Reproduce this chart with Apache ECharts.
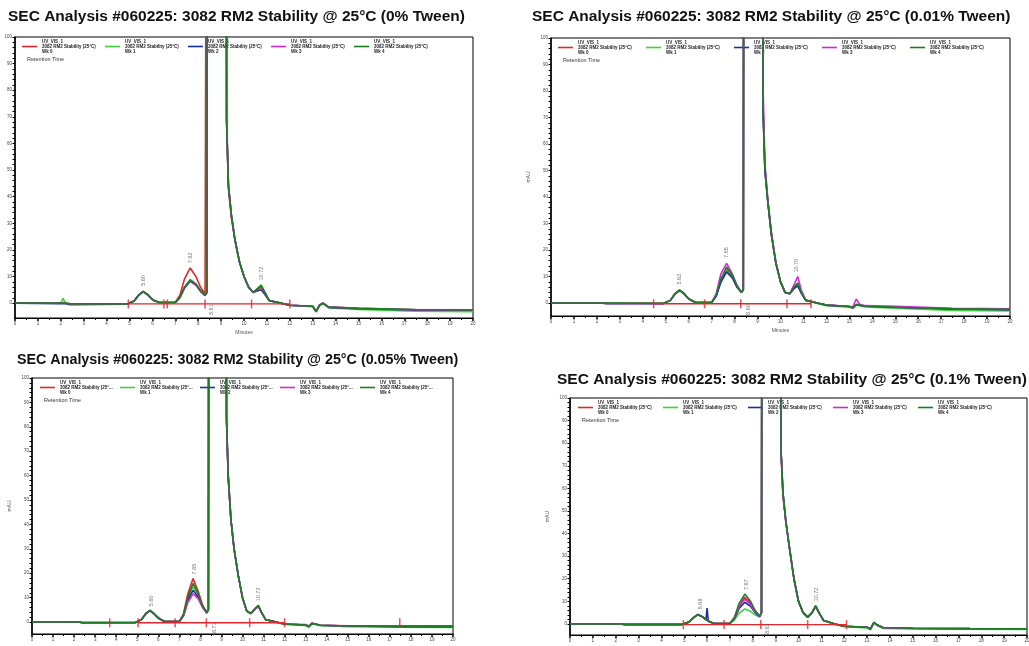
<!DOCTYPE html>
<html>
<head>
<meta charset="utf-8">
<title>SEC Analysis #060225</title>
<script src="https://cdn.jsdelivr.net/npm/echarts@6/dist/echarts.min.js"></script>
<style>
  html, body { margin: 0; padding: 0; background: #fff; }
  #chart { width: 1029px; height: 646px; }
</style>
</head>
<body>
<div id="chart"></div>
<script>
// retention times (min), shared by every trace
const times = [0, 2.0, 2.1, 2.2, 2.4, 4.9, 5.2, 5.4, 5.6, 5.8, 5.95, 6.0, 6.05, 6.3, 7.0,
  7.2, 7.4, 7.65, 7.9, 8.1, 8.3, 8.38, 8.42, 9.2, 9.24, 9.32, 9.45, 9.6, 9.8, 10.0,
  10.2, 10.4, 10.6, 10.75, 10.9, 11.1, 11.6, 12.0, 13.0, 13.15, 13.3, 13.45, 13.7, 15.0, 17.5, 20.0]

const seriesNames = [
  'UV_VIS_1\n3082 RM2 Stability (25°C)\nWk 0',
  'UV_VIS_1\n3082 RM2 Stability (25°C)\nWk 1',
  'UV_VIS_1\n3082 RM2 Stability (25°C)\nWk 2',
  'UV_VIS_1\n3082 RM2 Stability (25°C)\nWk 3',
  'UV_VIS_1\n3082 RM2 Stability (25°C)\nWk 4'
]
const seriesColors = ['#e3262b', '#3fd13f', '#1b2f9e', '#d12bd1', '#1d7d24']

const titles = [
  'SEC Analysis #060225: 3082 RM2 Stability @ 25°C (0% Tween)',
  'SEC Analysis #060225: 3082 RM2 Stability @ 25°C (0.01% Tween)',
  'SEC Analysis #060225: 3082 RM2 Stability @ 25°C (0.05% Tween)',
  'SEC Analysis #060225: 3082 RM2 Stability @ 25°C (0.1% Tween)'
]

// ---- panel 1 : 0% Tween ----
const p1Red = [0, 0, 0, 0, -0.3, -0.3, 0.8, 3, 4.3, 3.1, 1.7, 1.4, 1.1, 0.2, 0.3,
  3, 9, 13.2, 10, 6, 3.5, 4.2, 400, 400, 68, 43, 32, 24, 15.5, 10,
  6, 4, 5, 6, 4, 1, 0, -0.8, -1.2, -3.1, -0.8, 0, -1.5, -2, -2.5, -2.6]
const p1LtGreen = [0, 0, 1.8, 0, -0.3, -0.3, 0.7, 2.8, 4.2, 3, 1.7, 1.3, 1, 0.2, 0.2,
  2, 5.8, 8.6, 7, 4.6, 2.9, 4, 400, 400, 69, 44, 33, 24, 15.5, 10,
  6, 4, 5.6, 6.9, 4.3, 1, 0, -0.9, -1.4, -3.4, -1, -0.2, -1.8, -2.4, -3, -3.2]
const p1Blue = [0, -0.2, -0.2, -0.2, -0.6, -0.4, 0.8, 3, 4.4, 3.1, 1.7, 1.4, 1.1, 0.2, 0.2,
  2, 5.6, 8.2, 6.8, 4.4, 2.8, 4, 400, 400, 68, 44, 33, 24, 15.5, 10,
  6, 4, 4.6, 5, 3.4, 0.9, 0, -0.8, -1.2, -3.2, -0.8, 0, -1.6, -2.1, -2.6, -2.7]
const p1Magenta = [0, 0, 0, 0, -0.4, -0.3, 0.8, 3, 4.3, 3.1, 1.7, 1.4, 1.1, 0.2, 0.2,
  2, 5.8, 8.5, 7, 4.6, 2.9, 4, 400, 400, 70, 45, 33, 24, 15.5, 10,
  6, 4, 5.2, 6.2, 4, 1, 0, -0.8, -1.2, -3, -0.6, 0, -1.5, -2, -2.5, -2.6]
const p1DkGreen = [0, 0, 0, 0, -0.3, -0.3, 0.8, 3, 4.4, 3.2, 1.8, 1.4, 1.1, 0.2, 0.2,
  2.2, 6, 8.8, 7.2, 4.8, 3, 4, 400, 400, 69, 44, 33, 24, 15.5, 10,
  6, 4, 5.5, 6.6, 4.2, 1, 0, -0.8, -1.2, -3.2, -0.8, 0, -1.5, -2, -2.4, -2.6]
const p1Marks = [4.95, 6.5, 6.65, 8.3, 10.33, 12.0]
const p1BaseSpan = [4.95, 12.0]
const p1PeakTimes = [5.6, 7.65, 8.6, 10.75]
const p1PeakY = [6.5, 15, -4.5, 8.5]
const p1PeakText = ['5.60', '7.62', '8.61', '10.72']

// ---- panel 2 : 0.01% Tween ----
const p2Red = [0, 0, 0, 0, 0, -0.1, 1, 3.4, 4.8, 3.5, 2, 1.6, 1.3, 0.2, 0.2,
  3, 8.5, 12.5, 10, 6.2, 4, 5, 400, 400, 73, 50, 38, 26, 15, 8,
  4, 3.5, 5.8, 7, 4, 1, 0, -0.8, -1.3, -1.8, -0.6, -0.8, -1.2, -1.6, -2.3, -2.5]
const p2LtGreen = [0, 0, 0, 0, 0, -0.2, 1, 3.4, 4.8, 3.5, 2, 1.6, 1.3, 0.2, 0.2,
  3, 9, 13, 10.2, 6.4, 4, 5, 400, 400, 74, 51, 38, 26, 15, 8,
  4, 3.5, 6, 7.2, 4, 1, -0.2, -1, -1.6, -2, -0.8, -1, -1.5, -2, -2.8, -3]
const p2Blue = [0, 0, 0, 0, -0.3, -0.3, 1, 3.4, 4.8, 3.5, 2, 1.6, 1.3, 0.2, 0.2,
  2.5, 7.8, 11.7, 9.5, 6, 4, 5, 400, 400, 72, 50, 38, 26, 15, 8,
  4, 3.5, 5.5, 6.5, 3.8, 1, 0, -0.8, -1.3, -1.8, -0.6, -0.8, -1.2, -1.6, -2.2, -2.5]
const p2Magenta = [0, 0, 0, 0, -0.2, -0.2, 1, 3.5, 4.9, 3.6, 2, 1.6, 1.3, 0.2, 0.2,
  3.5, 11, 15, 11, 6.8, 4, 5, 400, 400, 82, 53, 39, 27, 15.5, 8,
  4, 3.5, 7, 10, 5, 1.2, 0, -0.8, -1.2, -1.5, 1.5, -0.5, -1, -1.2, -2, -2.2]
const p2DkGreen = [0, 0, 0, 0, 0, -0.1, 1, 3.5, 4.9, 3.6, 2, 1.6, 1.3, 0.2, 0.2,
  3, 9, 13.6, 10.5, 6.5, 4, 5, 400, 400, 74, 51, 38, 26, 15, 8,
  4, 3.5, 6, 7.5, 4, 1, 0, -0.8, -1.3, -1.8, -0.6, -0.8, -1.2, -1.6, -2.2, -2.4]
const p2Marks = [4.47, 6.69, 8.27, 10.28, 11.33]
const p2BaseSpan = [4.47, 11.33]
const p2PeakTimes = [5.6, 7.65, 8.6, 10.68]
const p2PeakY = [7, 17, -4.5, 11.5]
const p2PeakText = ['5.62', '7.65', '8.60', '10.70']

// ---- panel 3 : 0.05% Tween ----
const p3Red = [0, 0, 0, 0, -0.2, -0.2, 1, 3.3, 4.7, 3.3, 2, 1.6, 1.3, 0.2, 0.2,
  3.5, 11.5, 17.8, 12.5, 7, 4, 5, 400, 400, 83, 59, 42, 30, 19, 10,
  4.5, 3.5, 5.3, 6.5, 4, 1, 0, -0.8, -1.2, -1.8, -0.6, -0.8, -1.3, -1.5, -1.5, -1.5]
const p3LtGreen = [0, 0, 0, 0, -0.1, -0.2, 1, 3.3, 4.7, 3.3, 2, 1.6, 1.3, 0.2, 0.2,
  3, 9.5, 14.5, 11, 6.4, 4, 5, 400, 400, 85, 61, 42, 30, 19, 10,
  4.5, 3.5, 5.6, 6.9, 4.2, 1, -0.2, -1, -1.4, -2.2, -0.8, -1, -1.5, -1.9, -2.1, -2.2]
const p3Blue = [0, 0, 0, 0, -0.4, -0.3, 1, 3.4, 4.8, 3.5, 2.2, 2.5, 1.5, 0.2, 0.2,
  2.8, 9, 13, 10.2, 6.2, 4, 5, 400, 400, 83, 60, 42, 30, 19, 10,
  4.5, 3.5, 5.5, 6.6, 4, 1, 0, -0.8, -1.2, -1.8, -0.6, -0.8, -1.3, -1.6, -1.9, -2]
const p3Magenta = [0, 0, 0, 0, -0.4, -0.4, 1, 3.3, 4.6, 3.3, 2, 1.6, 1.3, 0.2, 0.2,
  2.5, 8, 11.6, 9.5, 6, 3.5, 5, 400, 400, 83, 60, 42, 30, 19, 10,
  4.5, 3.5, 5.3, 6.4, 4, 1, 0, -0.8, -1, -1.6, -0.3, -0.8, -1.3, -1.6, -1.8, -1.9]
const p3DkGreen = [0, 0, 0, 0, -0.2, -0.2, 1, 3.4, 4.8, 3.4, 2, 1.6, 1.3, 0.2, 0.2,
  3, 10, 15.8, 11.5, 6.5, 4, 5, 400, 400, 84, 60, 42, 30, 19, 10,
  4.5, 3.5, 5.5, 6.8, 4, 1, 0, -0.8, -1.2, -1.8, -0.6, -0.8, -1.3, -1.6, -1.8, -1.9]
const p3Marks = [3.69, 5.04, 6.8, 8.28, 10.34, 12.0, 17.47]
const p3BaseSpan = [5.04, 12.0]
const p3PeakTimes = [5.67, 7.73, 8.65, 10.78]
const p3PeakY = [6.5, 19.5, -4.5, 8.5]
const p3PeakText = ['5.60', '7.65', '8.71', '10.72']

// ---- panel 4 : 0.1% Tween ----
const p4Red = [0, 0, 0, 0, -0.2, -0.2, 0.8, 2.7, 4.1, 3.1, 2, 1.6, 1.3, 0.2, 0.2,
  2.8, 8, 11.8, 9.2, 5.6, 3.4, 5, 400, 400, 75, 57, 45, 34, 20, 10,
  5, 3, 5, 7.6, 4.8, 1.5, 0, -1, -1.5, -2.2, 0.6, -0.5, -1.6, -1.9, -2.1, -2.2]
const p4LtGreen = [0, 0, 0, 0, -0.1, -0.2, 0.7, 2.6, 4, 3, 1.9, 1.5, 1.2, 0.2, 0.2,
  1.8, 4.8, 6.6, 5.6, 4, 3, 5, 400, 400, 76, 58, 45, 34, 20, 10,
  5, 3, 5, 7.8, 4.8, 1.4, -0.2, -1.2, -1.8, -2.6, 0.4, -0.8, -2, -2.2, -2.3, -2.4]
const p4Blue = [0, 0, 0, 0, -0.3, -0.3, 0.8, 2.8, 4.2, 3.2, 1.8, 7, 1.2, 0.2, 0.2,
  2.4, 6.8, 9.6, 7.8, 5, 3.2, 5, 400, 400, 76, 58, 45, 34, 20, 10,
  5, 3, 5.2, 8, 5, 1.5, 0, -1, -1.5, -2.2, 0.7, -0.5, -1.6, -1.9, -2.1, -2.2]
const p4Magenta = [0, 0, 0, 0, -0.3, -0.3, 0.8, 2.7, 4.1, 3.1, 2, 1.6, 1.3, 0.2, 0.2,
  2.6, 7.6, 11, 8.6, 5.4, 3.3, 5, 400, 400, 75, 57, 45, 34, 20, 10,
  5, 3, 5, 7.8, 4.8, 1.5, 0, -1, -1.5, -2.1, 0.6, -0.5, -1.7, -2, -2.2, -2.3]
const p4DkGreen = [0, 0, 0, 0, -0.2, -0.2, 0.8, 2.8, 4.2, 3.2, 2, 1.6, 1.3, 0.2, 0.2,
  3, 9, 13.2, 10, 6, 3.5, 5, 400, 400, 76, 58, 45, 34, 20, 10,
  5, 3, 5.2, 8.1, 5, 1.5, 0, -1, -1.5, -2.2, 0.7, -0.5, -1.6, -1.9, -2.1, -2.2]
const p4Marks = [4.96, 6.74, 8.35, 10.4, 12.1]
const p4BaseSpan = [4.96, 12.1]
const p4PeakTimes = [5.69, 7.74, 8.66, 10.8]
const p4PeakY = [6.5, 15, -4.5, 10]
const p4PeakText = ['5.68', '7.67', '8.62', '10.72']

const yLabelValues = [0, 10, 20, 30, 40, 50, 60, 70, 80, 90, 100]
const baseLevel = -0.3

const panelTraces = [
  [p1Red, p1LtGreen, p1Blue, p1Magenta, p1DkGreen],
  [p2Red, p2LtGreen, p2Blue, p2Magenta, p2DkGreen],
  [p3Red, p3LtGreen, p3Blue, p3Magenta, p3DkGreen],
  [p4Red, p4LtGreen, p4Blue, p4Magenta, p4DkGreen]
]
const panelMarks = [p1Marks, p2Marks, p3Marks, p4Marks]
const panelSpans = [p1BaseSpan, p2BaseSpan, p3BaseSpan, p4BaseSpan]
const panelPeaks = [
  [p1PeakTimes, p1PeakY, p1PeakText],
  [p2PeakTimes, p2PeakY, p2PeakText],
  [p3PeakTimes, p3PeakY, p3PeakText],
  [p4PeakTimes, p4PeakY, p4PeakText]
]

// pixel layout of the four panels
const layout = [
  { left: 15, top: 37, width: 458, height: 281, yMin: -5.6, titleLeft: 8, titleTop: 9, titleSize: 15.5, legendLeft: 22, step: 83 },
  { left: 551, top: 38, width: 459, height: 278, yMin: -4.9, titleLeft: 532, titleTop: 9, titleSize: 15.5, legendLeft: 558, step: 88 },
  { left: 32, top: 378, width: 421, height: 256, yMin: -4.9, titleLeft: 17, titleTop: 353, titleSize: 14.3, legendLeft: 40, step: 80 },
  { left: 570, top: 398, width: 457, height: 237, yMin: -4.9, titleLeft: 557, titleTop: 372, titleSize: 15.5, legendLeft: 578, step: 85 }
]

let yTickValues = []
yLabelValues.forEach(v => { yTickValues.push(v, v + 2, v + 4, v + 6, v + 8) })
yTickValues = yTickValues.filter(v => v <= 100)

let grids = [], xAxes = [], yAxes = [], series = [], legends = [], titleList = [], graphics = []

layout.forEach((L, p) => {
  grids.push({
    left: L.left, top: L.top, width: L.width, height: L.height,
    outerBoundsMode: 'none', containLabel: false,
    show: true, borderColor: '#000', borderWidth: 1, backgroundColor: 'transparent'
  })
  xAxes.push({
    type: 'value', gridIndex: p, min: 0, max: 20, interval: 1,
    name: 'Minutes', nameLocation: 'middle', nameGap: 12,
    nameTextStyle: { fontSize: 5, color: '#555' },
    axisLine: { onZero: false, lineStyle: { color: '#000', width: 1 } },
    axisTick: { length: 3, lineStyle: { color: '#000', width: 1.5 } },
    minorTick: { show: true, splitNumber: 2, length: 2, lineStyle: { color: '#000', width: 1 } },
    axisLabel: { fontSize: 4.5, color: '#444', margin: 3 },
    splitLine: { show: false }
  })
  yAxes.push({
    type: 'value', gridIndex: p, min: L.yMin, max: 100,
    name: 'mAU', nameLocation: 'middle', nameGap: 20, nameRotate: 90,
    nameTextStyle: { fontSize: 5, color: '#555' },
    axisLine: { onZero: false, lineStyle: { color: '#000', width: 1.5 } },
    axisTick: { customValues: yTickValues, length: 2.5, lineStyle: { color: '#000', width: 1 } },
    axisLabel: { customValues: yLabelValues, fontSize: 4.5, color: '#444', margin: 3 },
    splitLine: { show: false }
  })
  titleList.push({
    text: titles[p], left: L.titleLeft, top: L.titleTop, padding: 0,
    textStyle: { fontSize: L.titleSize, fontWeight: 'bold', color: '#111', fontFamily: 'Liberation Sans' }
  })
  legends.push({
    left: L.legendLeft, top: L.top + 2, orient: 'horizontal', padding: 0,
    icon: 'rect', itemWidth: 15, itemHeight: 1.6, itemGap: 6,
    selectedMode: false, data: seriesNames,
    textStyle: { fontSize: 4.5, lineHeight: 5, color: '#222', fontWeight: 'bold', width: L.step - 26, overflow: 'truncate' }
  })
  graphics.push({
    type: 'text', left: L.left + 12, top: L.top + 19,
    style: { text: 'Retention Time', fontSize: 5.5, fill: '#333', fontFamily: 'Liberation Sans' }
  })

  panelTraces[p].forEach((arr, k) => {
    series.push({
      name: seriesNames[k], type: 'line', xAxisIndex: p, yAxisIndex: p,
      data: times.map((t, i) => [t, arr[i]]),
      showSymbol: false, clip: true, color: seriesColors[k],
      lineStyle: { width: 1.6, color: seriesColors[k] }, z: 2 + k
    })
  })

  // integration baseline + drop marks
  series.push({
    type: 'line', xAxisIndex: p, yAxisIndex: p, showSymbol: false, silent: true,
    data: panelSpans[p].map(t => [t, baseLevel]),
    lineStyle: { width: 1.4, color: seriesColors[0] }, z: 8
  })
  series.push({
    type: 'scatter', xAxisIndex: p, yAxisIndex: p, silent: true,
    symbol: 'rect', symbolSize: [1.5, 9],
    data: panelMarks[p].map(t => [t, baseLevel]),
    itemStyle: { color: seriesColors[0] }, z: 9
  })

  // peak retention-time labels
  const pk = panelPeaks[p]
  series.push({
    type: 'scatter', xAxisIndex: p, yAxisIndex: p, silent: true,
    symbolSize: 0,
    data: pk[0].map((t, i) => [t, pk[1][i]]),
    label: {
      show: true, rotate: 90, position: [0, 0], align: 'left', verticalAlign: 'middle',
      fontSize: 5.5, color: '#555',
      formatter: params => pk[2][params.dataIndex]
    },
    z: 10
  })
})

let chart = echarts.init(document.getElementById('chart'))
chart.setOption({
  animation: false,
  backgroundColor: '#fff',
  textStyle: { fontFamily: 'Liberation Sans' },
  title: titleList,
  legend: legends,
  grid: grids,
  xAxis: xAxes,
  yAxis: yAxes,
  graphic: graphics,
  series: series
})
</script>
</body>
</html>
